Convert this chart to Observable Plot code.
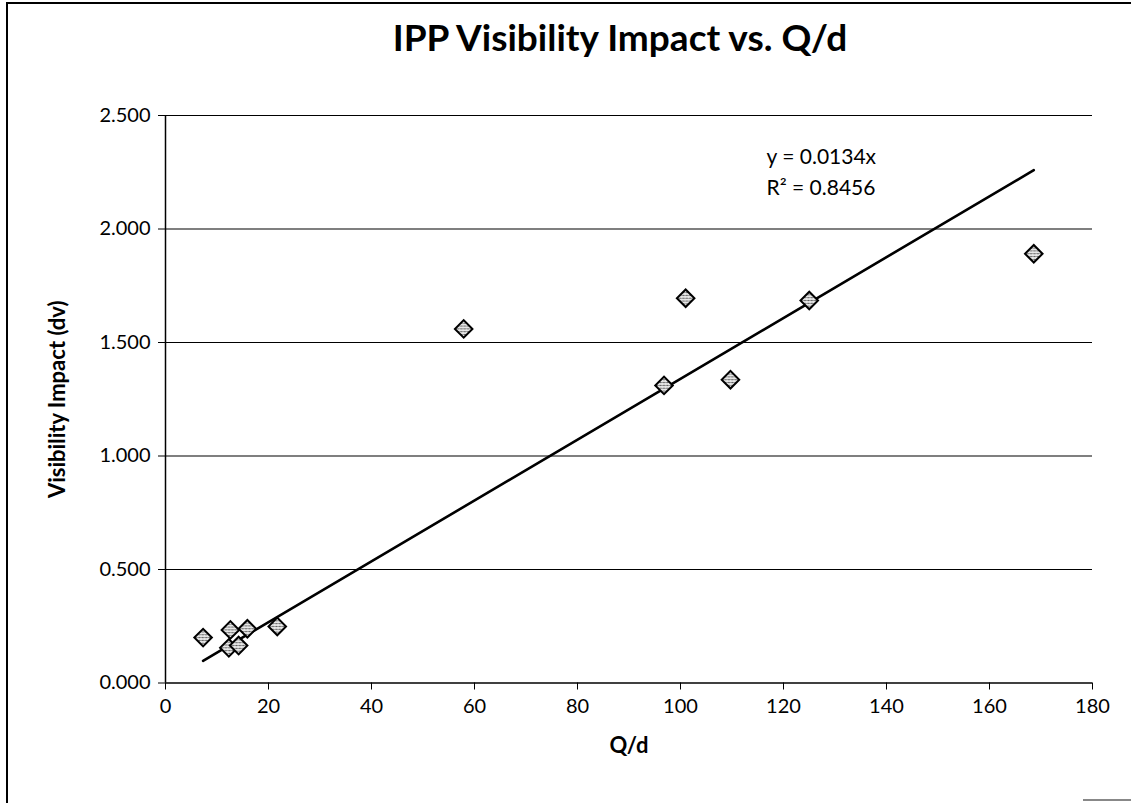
<!DOCTYPE html>
<html>
<head>
<meta charset="utf-8">
<script src="https://cdn.jsdelivr.net/npm/d3@7"></script>
<script src="https://cdn.jsdelivr.net/npm/@observablehq/plot@0.6"></script>
<style>
  html, body { margin: 0; padding: 0; background: #fff; }
  #wrap { position: relative; width: 1131px; height: 803px; overflow: hidden; font-family: Lato, sans-serif; }
  #frame { position: absolute; left: 6px; top: 2px; width: 1131px; height: 810px; border-left: 2px solid #000; border-top: 2px solid #000; }
  #corner { position: absolute; left: 1083px; top: 799px; width: 48px; height: 0; border-top: 2px solid #888; }
  #title { position: absolute; left: 150px; width: 940px; top: 14px; text-align: center; font-weight: bold; font-size: 37px; color: #000; }
  #chart { position: absolute; left: 0; top: 90px; }
</style>
</head>
<body>
<svg width="0" height="0" style="position:absolute">
  <defs>
    <pattern id="hatch" patternUnits="userSpaceOnUse" width="4" height="4">
      <rect width="4" height="4" fill="#e6e6e6"></rect>
      <path d="M0,4 L4,0" stroke="#555" stroke-width="1"></path>
    </pattern>
  </defs>
</svg>
<div id="wrap">
  <div id="frame"></div>
  <div id="corner"></div>
  <div id="title">IPP Visibility Impact vs. Q/d</div>
  <div id="chart"></div>
</div>
<script>
const qd  = [7.3, 12.3, 12.6, 14.2, 15.9, 21.7, 57.9, 96.8, 101.0, 109.7, 125.0, 168.6];
const vis = [0.200, 0.155, 0.234, 0.165, 0.239, 0.249, 1.560, 1.311, 1.695, 1.336, 1.685, 1.891];
const slope = 0.0134;
const eqLines = ["y = 0.0134x", "R² = 0.8456"];
const xTicks = [0, 20, 40, 60, 80, 100, 120, 140, 160, 180];
const yTicks = [0, 0.5, 1.0, 1.5, 2.0, 2.5];
const xLabel = "Q/d";
const yLabel = "Visibility Impact (dv)";

const pts = qd.map((x, i) => ({x, y: vis[i]}));
const xmin = d3.min(qd), xmax = d3.max(qd);
const trend = [xmin, xmax].map(x => ({x, y: slope * x}));

const chart = Plot.plot({
  width: 1131,
  height: 713,
  marginLeft: 165,
  marginRight: 39,
  marginTop: 25,
  marginBottom: 120.5,
  x: {domain: [0, 180]},
  y: {domain: [0, 2.5]},
  style: {fontFamily: "Lato, sans-serif", fontSize: "20px", color: "#000", background: "transparent"},
  marks: [
    Plot.ruleY(yTicks.filter(d => d > 0), {stroke: "#000", strokeWidth: 1.2}),
    Plot.ruleY([0], {stroke: "#000", strokeWidth: 1.5}),
    Plot.ruleX([0], {stroke: "#000", strokeWidth: 1.5}),
    Plot.axisX(xTicks, {tickSize: 7, tickPadding: 9, fontSize: 20, label: null, stroke: "#000"}),
    Plot.axisY(yTicks, {tickSize: 7, tickPadding: 8, fontSize: 20, label: null, tickFormat: d3.format(".3f"), stroke: "#000"}),
    Plot.line(trend, {x: "x", y: "y", stroke: "#000", strokeWidth: 2.6}),
    Plot.dot(pts, {x: "x", y: "y", symbol: "square", rotate: 45, r: 7, fill: "url(#hatch)", stroke: "#000", strokeWidth: 2}),
    Plot.text([eqLines.join("\n")], {frameAnchor: "top-left", dx: 601, dy: 26, textAnchor: "start", lineAnchor: "top", fontSize: 21, lineHeight: 1.48, fill: "#000"}),
    Plot.text([xLabel], {frameAnchor: "bottom", dy: 70, fontSize: 22, fontWeight: "bold", fill: "#000"}),
    Plot.text([yLabel], {frameAnchor: "left", dx: -108, rotate: -90, textAnchor: "middle", fontSize: 22, fontWeight: "bold", fill: "#000"})
  ]
});
document.getElementById("chart").appendChild(chart);
</script>
</body>
</html>
